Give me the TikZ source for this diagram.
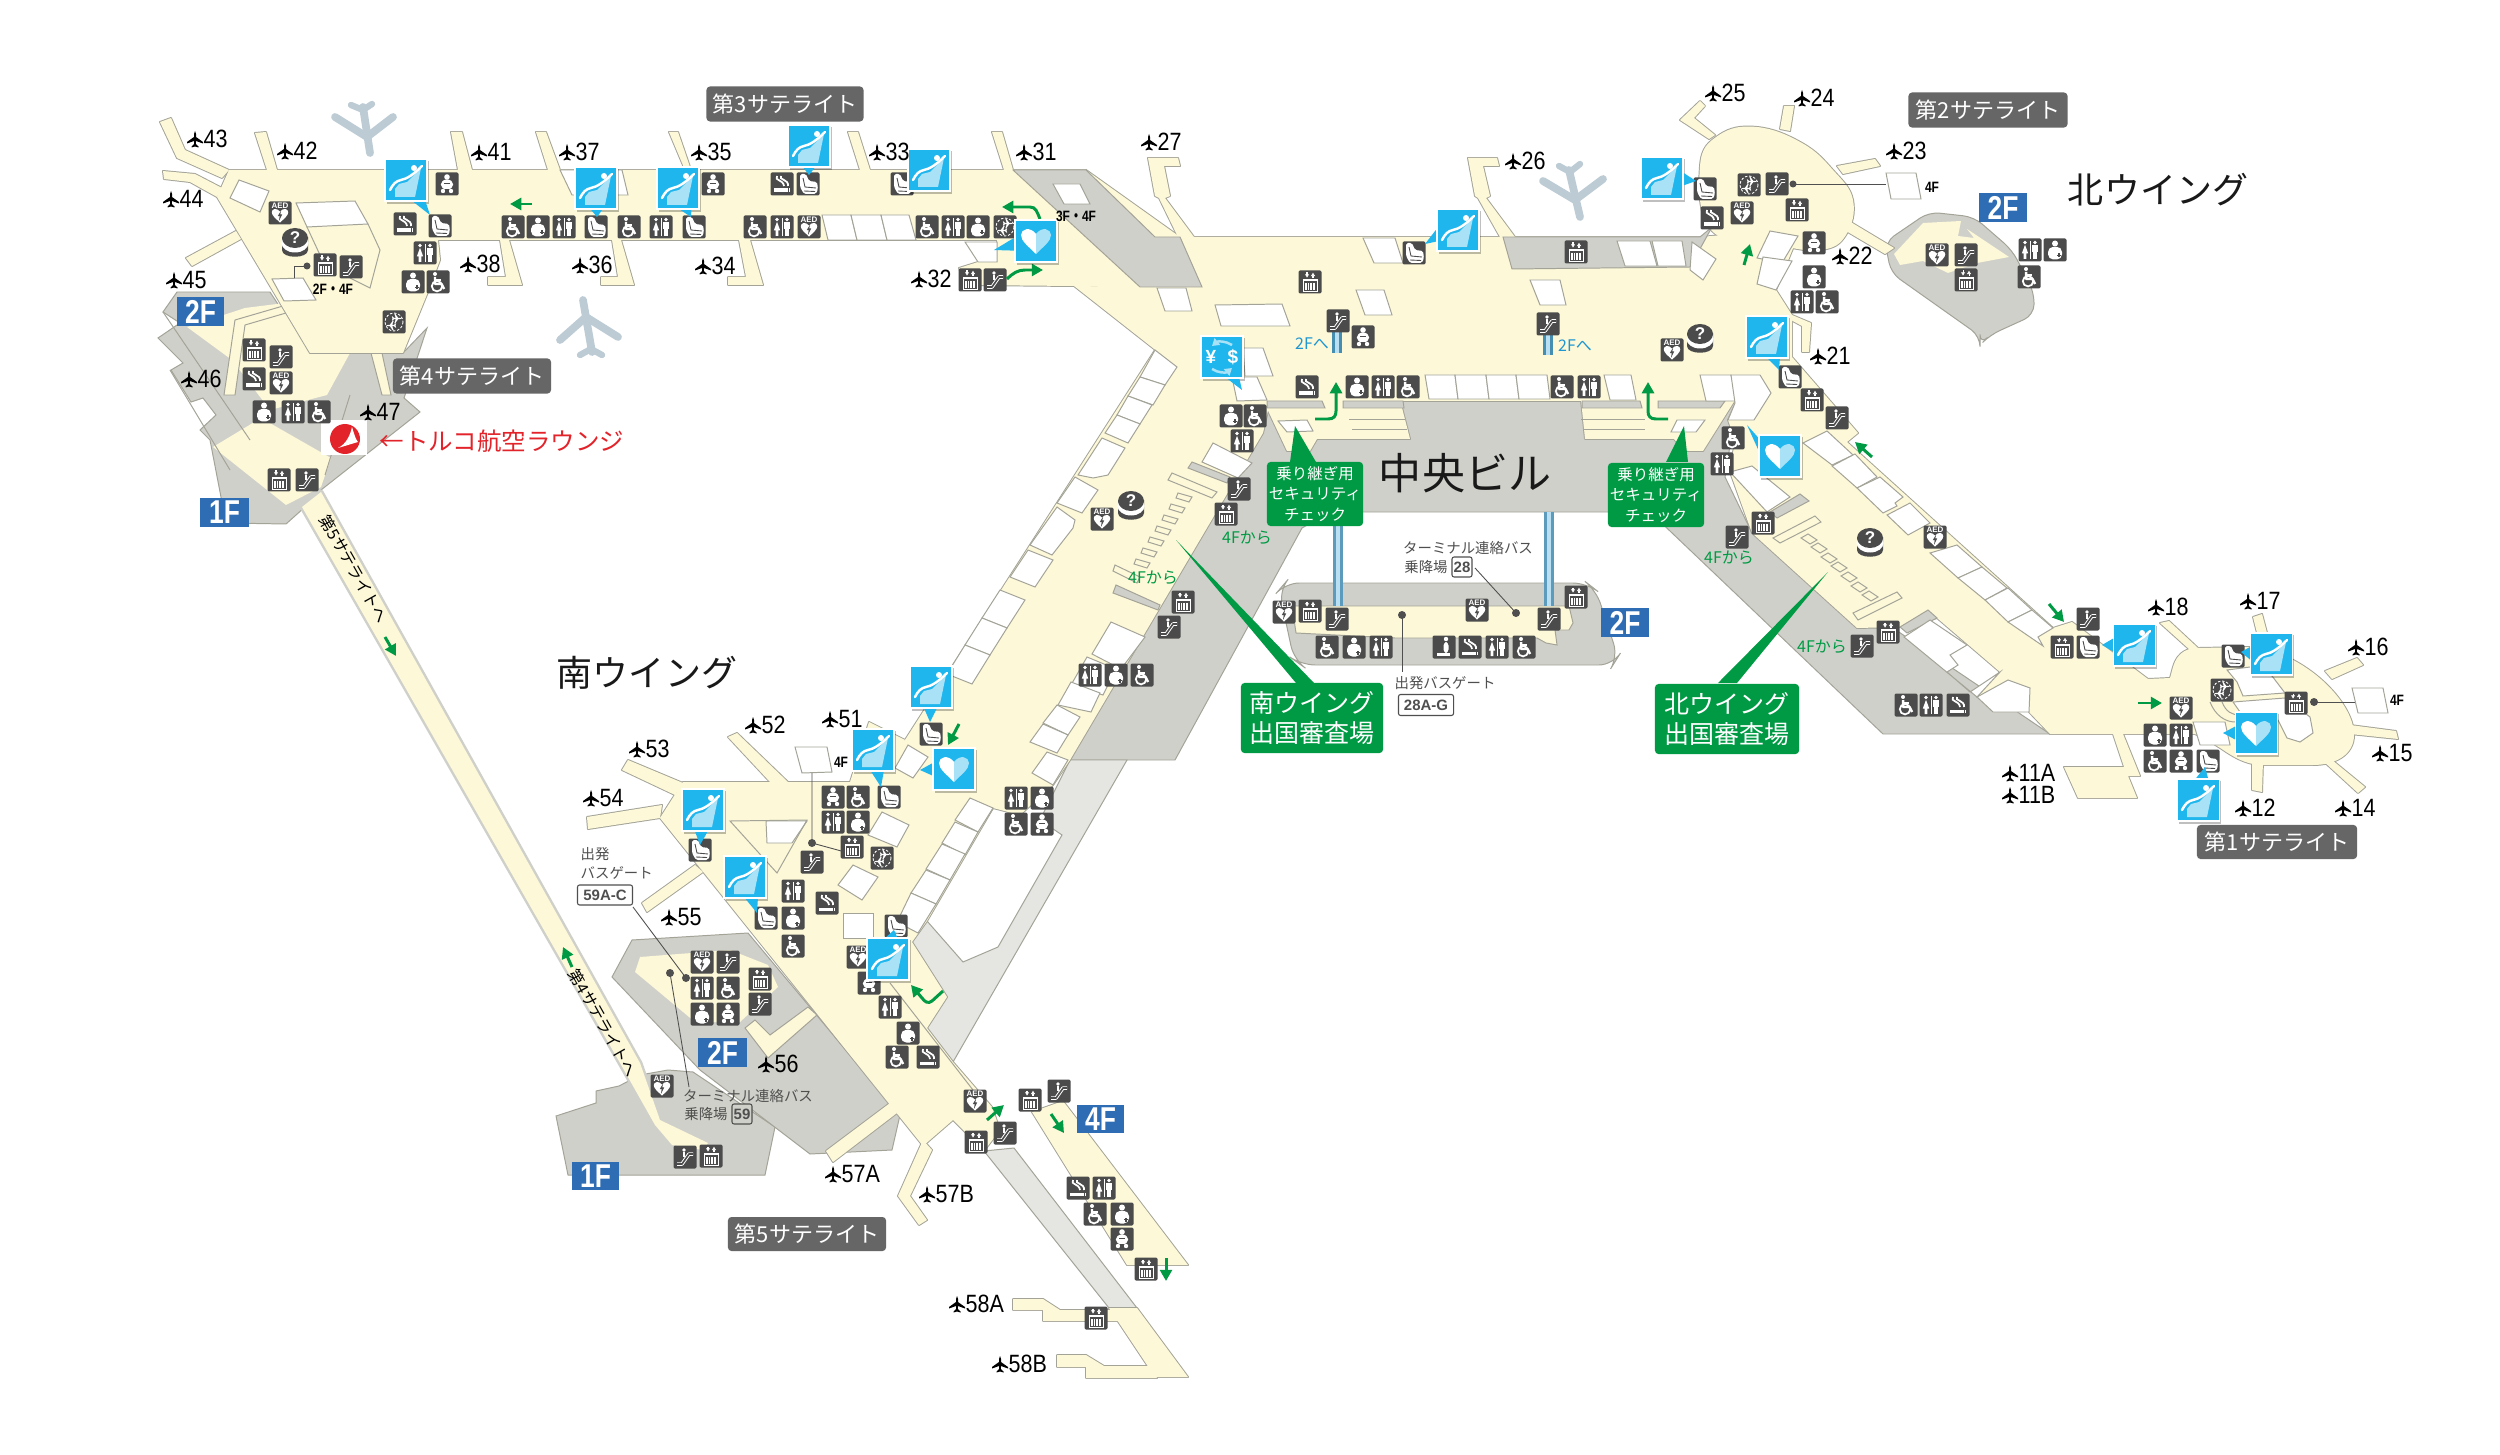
\documentclass[tikz,border=0pt]{standalone}
\usepackage{fontspec}
\setmainfont{Liberation Sans}
\newfontfamily\jp{Noto Sans CJK JP}
\usetikzlibrary{arrows.meta}
\definecolor{crm}{HTML}{FCF8D8}
\definecolor{gr}{HTML}{D0D0CA}
\definecolor{lgr}{HTML}{E5E6E2}
\definecolor{ln}{HTML}{A3A398}
\definecolor{icbg}{HTML}{4B4B4B}
\definecolor{cbl}{HTML}{1FB6EE}
\definecolor{cll}{HTML}{A9E2F7}
\definecolor{grn}{HTML}{009A44}
\definecolor{fbl}{HTML}{2E6DB4}
\definecolor{lbg}{HTML}{666666}
\definecolor{pln}{HTML}{BCCBD4}
\definecolor{tred}{HTML}{E2232A}
\definecolor{tbl}{HTML}{1E96D2}
\definecolor{tg}{HTML}{4F4F4F}
\newcommand\fpx[1]{\fontsize{\fpeval{#1*0.2845}}{\fpeval{#1*0.34}}\selectfont}
\tikzset{
 x=0.01cm,y=-0.01cm,
 lnn/.style={draw=ln,line width=.28pt},
 cln/.style={draw=ln,line width=.55pt,line join=round},
 cfl/.style={fill=crm},
 gfl/.style={fill=gr,draw=ln,line width=.28pt},
 wb/.style={fill=white,draw=ln,line width=.28pt},
 ga/.style={draw=grn,line width=.85pt,-{Triangle[length=3.2pt,width=3.4pt]}},
 gnum/.style={anchor=west,inner sep=0pt,text=black,font=\fpx{25},xscale=.86},
 satl/.style={fill=lbg,text=white,rounded corners=1pt,font=\jp\fpx{22},inner sep=0pt,anchor=center},
 gtx/.style={text=tg,inner sep=0pt,font=\jp\fpx{14.4}},
 gfs/.style={text=grn,inner sep=0pt,font=\jp\fpx{16}},
 bfs/.style={text=tbl,inner sep=0pt,font=\jp\fpx{16}},
 bfl/.style={text=black,inner sep=0pt,font=\bfseries\fpx{15},xscale=.8},
 blk/.style={text=black!90,inner sep=0pt,font=\jp},
 bbx/.style={draw=tg,line width=.3pt,rounded corners=.6pt,fill=white,text=tg,inner sep=0pt,font=\bfseries\fpx{15},xscale=1}
}
% ---- gate plane glyph
\newcommand\Gpl[1]{\fill[#1] (0,-8)--(1,-5)--(1,-2)--(8,3)--(8,4.5)--(1,2)--(.9,5)--(3.5,7.5)--(3.5,8.5)--(0,7.5)--(-3.5,8.5)--(-3.5,7.5)--(-.9,5)--(-1,2)--(-8,4.5)--(-8,3)--(-1,-2)--(-1,-5)--cycle;}
\newcommand\gtl[3]{\begin{scope}[shift={(#1,#2)}]\Gpl{black}\end{scope}\node[gnum] (gate#3) at (#1+8,#2) {#3};}
\newcommand\hrt{(0,13) .. controls (-8,5) and (-15,0) .. (-15,-6) .. controls (-15,-12) and (-6,-15) .. (0,-7) .. controls (6,-15) and (15,-12) .. (15,-6) .. controls (15,0) and (8,5) .. (0,13) -- cycle}
% ---- icon glyphs
\newcommand\Ge{\fill[white] (-7,-3) rectangle (7,-.8);\draw[white,line width=.25pt] (-7,-3) rectangle (7,9);
 \foreach \q in {-5,-2.4,.2,2.8}{\fill[white] (\q,1) rectangle (\q+1.7,8);}
 \draw[white,line width=.3pt,-{Latex[length=1pt,width=1.3pt]}] (-3,-9.5)--(-3,-4.2);\draw[white,line width=.3pt,-{Latex[length=1pt,width=1.3pt]}] (3,-4.2)--(3,-9.5);}
\newcommand\Gs{\draw[white,line width=1pt,line join=round] (-8,7)--(-3,7)--(4,-3)--(8,-3);\draw[icbg,line width=.45pt,line join=round] (-8,7)--(-3,7)--(4,-3)--(8,-3);\fill[white] (-1,-7) circle (1.8);\draw[white,line width=.4pt] (-1,-5)--(-1,0);}
\newcommand\Gt{\fill[white] (-5,-7.5) circle (1.9);\fill[white] (-5,-5.2)--(-1.8,3.5)--(-3.6,3.5)--(-3.6,9)--(-6.4,9)--(-6.4,3.5)--(-8.2,3.5)--cycle;
 \fill[white] (5,-7.5) circle (1.9);\fill[white] (2.4,-5) rectangle (7.6,2);\fill[white] (3.2,2) rectangle (6.8,9);\draw[white,line width=.2pt] (0,-9)--(0,9);}
\newcommand\Gw{\fill[white] (-3,-8) circle (2);\draw[white,line width=.5pt] (-1,4.2) circle (5.2);\draw[white,line width=.7pt,line join=round] (-3,-5)--(-3,2)--(3.5,2)--(6,7);\draw[white,line width=.5pt] (-3,-2)--(3,-2);}
\newcommand\Gm{\fill[white] (0,-6.5) circle (3);\fill[white,rounded corners=1.5] (-7,-3.2) rectangle (7,9.5);\fill[icbg] (2,4.8) rectangle (6,6.2);\fill[icbg] (3.3,3.5) rectangle (4.7,7.5);}
\newcommand\Gb{\fill[white] (0,-7) circle (2.8);\fill[white] (0,0.5) ellipse (6.2 and 5);\fill[white] (-4,7) circle (2.2);\fill[white] (4,7) circle (2.2);\fill[icbg] (-2,5.4) rectangle (2,8);\draw[icbg,line width=.25pt] (-3,-1)--(3,-1);}
\newcommand\Gc{\fill[white] (-8,4.5) rectangle (5.5,8);\fill[white] (6.5,4.5) rectangle (8,8);\draw[white,line width=.5pt] (-5,-8) .. controls (-8,-3) and (1,-5) .. (2,2);\draw[white,line width=.5pt] (-1,-8) .. controls (-4,-4) and (7,-5) .. (6,2);}
\newcommand\Ga{\node[text=white,inner sep=0pt,font=\bfseries\fpx{8}] at (0,-7.6) {AED};\begin{scope}[shift={(0,2.5)},scale=.55]\fill[white] \hrt;\fill[icbg] (2,-9)--(-4,1)--(-.5,1)--(-2,10)--(4,-2)--(.5,-2)--cycle;\end{scope}}
\newcommand\Gl{\fill[white,rounded corners=.5] (-8,-10)--(-2,-10)--(1,-3)--(9,-2)--(10,5)--(8,10)--(-4,10)--(-8,3)--cycle;\draw[icbg,line width=.25pt] (-5,-6)--(-3,3)--(8,4);\draw[icbg,line width=.25pt] (-4,7)--(7,7.5);}
\newcommand\Gp{\draw[white,line width=.25pt,dash pattern=on .7pt off .5pt] (0,0) circle (9);\begin{scope}[shift={(3,-3.5)},scale=.6,rotate=-90]\Gpl{white}\end{scope}\begin{scope}[shift={(-3,3.5)},scale=.6,rotate=90]\Gpl{white}\end{scope}}
\newcommand\Gk{\fill[white] (2,-8) circle (2.2);\fill[white,rounded corners=1] (-.5,-5) rectangle (4.5,6);\fill[white] (-7,6) rectangle (6,9);}
\newcommand\ic[3]{\fill[icbg,rounded corners=.4pt] (#1-11.5,#2-11.5) rectangle (#1+11.5,#2+11.5);\begin{scope}[shift={(#1,#2)}]#3\end{scope}}
% ---- info desk
\newcommand\info[2]{\begin{scope}[shift={(#1,#2)}]\fill[icbg] (-13,-5) -- (-13,8) .. controls (-13,17) and (13,17) .. (13,8) -- (13,-5) -- cycle;\fill[white] (0,1) ellipse (13.5 and 9.5);\fill[icbg] (0,-4) ellipse (13 and 10);\fill[icbg] (-13,-4) rectangle (13,-3);\node[text=white,inner sep=0pt,font=\bfseries\fpx{17}] at (0,-4) {?};\end{scope}}
% ---- callouts
\newcommand\Cseat{\fill[cll] (-11,17)--(-11,9)--(-7,4)--(1,2)--(10,-7)--(15,-12)--(9,17)--cycle;\draw[white,line width=.7pt,line cap=round] (-16,10) .. controls (-13,4) and (-10,1) .. (-5,0) .. controls (1,-1) and (8,-6) .. (16,-14);\fill[white] (8,-12) circle (3);}
\newcommand\Cheart{\fill[white] (0,13) .. controls (-8,5) and (-15,0) .. (-15,-6) .. controls (-15,-12) and (-6,-15) .. (0,-7) -- cycle;\fill[cll] (0,13) .. controls (8,5) and (15,0) .. (15,-6) .. controls (15,-12) and (6,-15) .. (0,-7) -- cycle;}
\newcommand\Cex{\node[text=white,inner sep=0pt,font=\bfseries\fpx{19}] at (-11,0) {¥};\node[text=white,inner sep=0pt,font=\bfseries\fpx{19}] at (11,0) {\$};
 \draw[cll,line width=.7pt,-{Triangle[length=2pt,width=2.4pt]}] (10,-12) .. controls (4,-16) and (-4,-16) .. (-10,-11);\draw[cll,line width=.7pt,-{Triangle[length=2pt,width=2.4pt]}] (-10,12) .. controls (-4,16) and (4,16) .. (10,11);}
\newcommand\cb[5]{\pgfmathsetmacro\ddx{#3-#1}\pgfmathsetmacro\ddy{#4-#2}\pgfmathsetmacro\hh{abs(\ddx)>abs(\ddy)?1:0}
 \pgfmathsetmacro\sgx{\ddx>0?1:-1}\pgfmathsetmacro\sgy{\ddy>0?1:-1}
 \fill[black,opacity=.25] (#1-19,#2-19) rectangle (#1+23,#2+24);
 \ifdim\hh pt>0.5pt
  \fill[cbl] (#3,#4)--(#1+\sgx*20,#2+.3*\ddy-7)--(#1+\sgx*20,#2+.3*\ddy+7)--cycle;
 \else
  \fill[cbl] (#3,#4)--(#1+.5*\ddx-7,#2+\sgy*20)--(#1+.5*\ddx+7,#2+\sgy*20)--cycle;
 \fi
 \filldraw[fill=cbl,draw=white,line width=.3pt] (#1-21,#2-21) rectangle (#1+21,#2+21);
 \begin{scope}[shift={(#1,#2)}]#5\end{scope}}
% ---- all cream areas
\newcommand\creamall[1]{%
 % gates west
 #1 (160,122)--(171,118)--(185,150)--(229,170)--(222,178)--(177,158)--cycle;
 #1 (163,171)--(195,174)--(222,188)--(217,197)--(190,182)--(164,179)--cycle;
 #1 (255,133)--(266,132)--(277,170)--(267,170)--cycle;
 #1 (186,258)--(192,266)--(241,239)--(236,231)--cycle;
 #1 (451,132)--(462,132)--(472,170)--(458,170)--cycle;
 #1 (536,132)--(546,132)--(560,170)--(548,170)--cycle;
 #1 (669,132)--(678,132)--(691,170)--(685,170)--cycle;
 #1 (848,132)--(858,132)--(870,170)--(860,170)--cycle;
 #1 (992,132)--(1002,132)--(1013,170)--(1004,170)--cycle;
 #1 (500,240)--(509,240)--(522,285)--(488,285)--(488,277)--(506,277)--cycle;
 #1 (612,240)--(621,240)--(634,285)--(601,285)--(601,277)--(618,277)--cycle;
 #1 (739,240)--(750,240)--(763,285)--(728,285)--(728,277)--(746,277)--cycle;
 % gates center
 #1 (1148,158)--(1178,158)--(1180,166)--(1164,166)--(1170,196)--(1165,198)--(1194,237)--(1178,237)--(1159,198)--(1155,196)--cycle;
 #1 (1468,158)--(1497,158)--(1499,166)--(1483,166)--(1490,196)--(1486,198)--(1515,237)--(1500,237)--(1478,198)--(1475,196)--cycle;
 % sat 2 gates
 #1 (1700,101)--(1705,106)--(1694,118)--(1715,135)--(1709,139)--(1680,120)--cycle;
 #1 (1784,106)--(1794,106)--(1790,131)--(1780,129)--cycle;
 #1 (1837,166)--(1875,159)--(1880,166)--(1843,174)--cycle;
 #1 (1849,221)--(1894,248)--(1885,254)--(1846,231)--cycle;
 #1 (1792,315)--(1811,323)--(1809,352)--(1802,352)--(1802,326)--(1789,319)--cycle;
 % sat 1 gates
 #1 (2160,623)--(2169,621)--(2198,648)--(2190,650)--cycle;
 #1 (2253,617)--(2262,614)--(2267,633)--(2257,633)--cycle;
 #1 (2325,671)--(2357,658)--(2363,665)--(2332,679)--cycle;
 #1 (2350,725)--(2396,731)--(2398,739)--(2350,734)--cycle;
 #1 (2322,760)--(2332,760)--(2365,787)--(2358,793)--cycle;
 #1 (2252,760)--(2263,760)--(2262,792)--(2252,790)--cycle;
 #1 (2113,734)--(2123,734)--(2140,776)--(2128,776)--(2137,798)--(2078,798)--(2064,767)--(2124,767)--cycle;
 % south gates
 #1 (695,865)--(703,872)--(647,912)--(642,903)--cycle;
 #1 (587,817)--(662,805)--(660,818)--(588,829)--cycle;
 #1 (628,760)--(683,783)--(675,795)--(622,770)--cycle;
 #1 (737,733)--(788,782)--(770,782)--(728,737)--cycle;
 #1 (869,722)--(905,740)--(880,782)--(850,782)--cycle;
 #1 (826,1151)--(890,1103)--(897,1113)--(833,1162)--cycle;
 #1 (923,1140)--(932,1150)--(910,1196)--(927,1220)--(919,1225)--(898,1196)--cycle;
 % west hub and corridor
 #1 (229,170)--(1086,170)--(1180,237)--(1200,290)--(1074,286)--(965,285)--(959,268)--(978,262)--(997,262)--(997,240)--(438,240)--(440,260)--(428,292)--(403,353)--(310,353)--(217,197)--cycle;
 % sat 2 body
 #1 plot[smooth cycle,tension=.7] coordinates {(1757,127)(1802,143)(1833,170)(1853,200)(1846,235)(1821,250)(1776,245)(1712,231)(1700,166)(1719,135)};
 % hall, south wing, north wing, sat 1
 #1 (1180,237)--(1700,237)--(1770,231)--(1798,236)--(1776,290)--(1792,315)--(1792,357)--(1858,433)--(1847,442)--(2053,628)--(2072,622)--(2148,679)--(2170,678)--(2173,667) .. controls (2178,650) and (2190,648) .. (2198,648) -- (2250,647) .. controls (2300,650) and (2354,700) .. (2354,735) .. controls (2354,755) and (2335,765) .. (2313,765) -- (2263,765) .. controls (2240,765) and (2225,750) .. (2212,743) -- (2195,734) -- (2050,734) -- (2029,712) -- (2030,688) -- (2008,680) -- (1977,697) -- (2000,672) -- (1937,618) -- (1900,627) -- (1857,628) -- (1752,533) -- (1730,472) -- (1735,440) -- (1728,420) -- (1737,401) -- (1270,401) -- (1263,433) -- (1070,760) -- (1053,785) -- (1020,815) -- (993,808) -- (927,921) -- (912,942) -- (947,997) -- (927,1028) -- (953,1062) -- (992,1107) -- (1000,1130) -- (984,1151) -- (953,1120) -- (923,1146) -- (660,818) -- (683,782) -- (870,782) -- (905,740) -- (1155,350) -- (1177,367) -- (1074,286) -- (1140,287) -- cycle;
 % pockets
 #1 (1263,400)--(1400,400)--(1410,439)--(1317,439)--(1310,451)--(1287,451)--cycle;
 #1 (1581,400)--(1735,400)--(1703,451)--(1684,451)--(1674,439)--(1585,439)--cycle;
 % lower south
 #1 (1032,1112)--(1063,1101)--(1188,1265)--(1127,1265)--cycle;
 #1 (1109,1308)--(1137,1308)--(1188,1377)--(1155,1377)--cycle;
 #1 (1013,1299)--(1043,1299)--(1060,1310)--(1115,1310)--(1125,1321)--(1043,1321)--(1043,1310)--(1013,1310)--cycle;
 #1 (1057,1355)--(1086,1355)--(1104,1366)--(1150,1366)--(1157,1378)--(1086,1378)--(1086,1367)--(1057,1367)--cycle;
}
\begin{document}
\begin{tikzpicture}
\useasboundingbox (0,0) rectangle (2500,1455);
\fill[white] (0,0) rectangle (2500,1455);
% ---------- gray floors
\filldraw[gfl] (177,292)--(270,292)--(310,353)--(403,353)--(427,328)--(404,398)--(420,412)--(321,490)--(305,507)--(286,524)--(226,523)--(210,440)--(200,430)--(216,415)--(203,398)--(191,402)--(171,370)--(183,363)--(158,338)--(180,323)--(163,312)--cycle;
\fill[crm] (187,327)--(245,308)--(285,303)--(310,353)--(350,353)--(327,395)--(270,410)--(232,360)--cycle;
\fill[crm] (213,447)--(261,418)--(331,458)--(321,487)--(286,505)--cycle;
\filldraw[fill=crm,draw=ln,line width=.28pt] (224,395)--(235,395)--(245,325)--(286,313)--(283,306)--(235,320)--cycle;
\filldraw[fill=crm,draw=ln,line width=.28pt] (371,353)--(382,353)--(391,395)--(382,395)--cycle;
\draw[ln,line width=.28pt] (163,312)--(250,440) (170,370)--(230,470) (325,475)--(350,395);
% corridor to satellite 4/5
\filldraw[gfl] (556,1116)--(596,1103)--(596,1091)--(619,1086)--(640,1075)--(668,1070)--(693,1072)--(775,1127)--(765,1175)--(568,1175)--cycle;
\filldraw[gfl] (632,940)--(748,933)--(890,1103)--(900,1115)--(892,1150)--(810,1154)--(700,1070)--(612,977)--cycle;
\draw[gr,line width=1.4pt,line join=round] (302,507)--(321,492)--(640,1063)--(660,1120)--(708,1143)--(703,1150)--(672,1145)--(655,1125)--(620,1063)--cycle;
\fill[crm] (302,507)--(321,492)--(640,1063)--(660,1120)--(708,1143)--(703,1150)--(672,1145)--(655,1125)--(620,1063)--cycle;
\fill[crm] (640,957)--(635,972)--(695,1022)--(740,1022)--(778,987)--(768,965)--(730,950)--cycle;
\filldraw[fill=crm,draw=ln,line width=.28pt] (745,1028)--(755,1020)--(770,1035)--(808,1007)--(817,1015)--(768,1058)--cycle;
% main gray
\filldraw[gfl] (1263,433)--(1270,401)--(1737,401)--(1725,477)--(1752,533)--(2050,734)--(1883,734)--(1650,512)--(1330,512)--(1302,528)--(1175,760)--(1070,760)--cycle;
\filldraw[fill=lgr,draw=ln,line width=.28pt] (1070,760)--(1127,760)--(953,1062)--(927,1028)--(947,997)--(912,942)--(927,921)--(963,962)--(998,947)--(1062,835)--(1040,820)--cycle;
% sat2 annex gray
\filldraw[gfl,rounded corners=3] (1929,212)--(1885,242)--(1891,273)--(1980,336)--(1980,345)--(1990,335)--(2034,315)--(2034,292)--(2012,250)--(1974,217)--cycle;
\fill[crm] (1894,254)--(1923,223)--(1961,221)--(1958,236)--(1974,238)--(1967,229)--(2009,257)--(1977,263)--(1948,273)--(1923,261)--(1900,265)--cycle;
% central 2F gray
\filldraw[gfl,rounded corners=4] (1279,590)--(1285,583)--(1587,583)--(1596,590)--(1618,657)--(1613,665)--(1301,665)--(1294,660)--cycle;
\filldraw[fill=crm,draw=ln,line width=.28pt] (1292,606)--(1569,606)--(1573,623)--(1569,630)--(1555,630)--(1557,645)--(1546,643)--(1537,638)--(1395,638)--(1296,633)--cycle;
% light gray strip
\filldraw[fill=lgr,draw=ln,line width=.28pt] (984,1151)--(1014,1148)--(1137,1308)--(1109,1308)--cycle;
% ---------- cream union
\creamall{\draw[cln]}
\creamall{\fill[cfl]}
\draw[ln,line width=.28pt] (890,983)--(973,1090);
% gray overlays
\filldraw[gfl] (1013,170)--(1086,170)--(1155,237)--(1180,237)--(1202,287)--(1140,287)--cycle;
\filldraw[gfl] (1503,237)--(1700,237)--(1712,227)--(1690,267)--(1512,269)--cycle;
\foreach \a/\b/\c in {1267/1322/1325,1343/1403/1404,1582/1640/1642,1658/1725/1720}{\filldraw[gfl] (\a,401)--(\b,401)--(\c,408)--(\a,408)--cycle;}
\filldraw[gfl] (1116,585)--(1113,593)--(1158,610)--(1160,605)--cycle;
\filldraw[gfl] (1192,462)--(1188,468)--(1227,483)--(1230,477)--cycle;
\filldraw[gfl] (1770,512)--(1800,494)--(1809,501)--(1777,518)--cycle;
\filldraw[gfl] (1900,627)--(1928,610)--(1937,618)--(1907,633)--cycle;
% ---------- white boxes
\foreach \p in {
 {(230,198)--(239,180)--(269,191)--(260,212)},
 {(296,203)--(355,201)--(368,224)--(307,227)},
 {(272,279)--(303,278)--(316,300)--(284,301)},
 {(1053,184)--(1080,184)--(1090,204)--(1064,204)},
 {(965,242)--(997,242)--(997,262)--(978,262)},
 {(822,215)--(851,215)--(857,240)--(828,240)},
 {(851,215)--(881,215)--(887,240)--(857,240)},
 {(881,215)--(909,215)--(916,240)--(887,240)},
 {(560,170)--(622,170)--(628,195)--(572,195)},
 {(1155,350)--(1177,367)--(1165,385)--(1140,377)},
 {(1140,377)--(1165,385)--(1153,405)--(1128,396)},
 {(1128,396)--(1152,405)--(1140,424)--(1117,415)},
 {(1117,415)--(1140,424)--(1128,443)--(1105,433)},
 {(1102,438)--(1125,448)--(1108,475)--(1093,478)--(1078,475)},
 {(1075,477)--(1098,490)--(1082,513)--(1057,503)},
 {(1057,507)--(1075,520)--(1073,528)--(1052,555)--(1030,545)},
 {(1028,550)--(1053,560)--(1035,587)--(1010,577)},
 {(1000,590)--(1025,600)--(1007,628)--(982,618)},
 {(982,618)--(1007,628)--(990,655)--(965,645)},
 {(965,645)--(990,655)--(972,684)--(947,674)},
 {(1213,443)--(1252,463)--(1238,478)--(1202,462)},
 {(1111,622)--(1145,637)--(1121,669)--(1092,654)},
 {(1087,657)--(1116,669)--(1103,695)--(1071,685)},
 {(1071,682)--(1100,693)--(1091,712)--(1058,705)},
 {(1057,705)--(1080,717)--(1068,735)--(1043,723)},
 {(1043,724)--(1068,735)--(1057,753)--(1030,742)},
 {(1047,752)--(1068,760)--(1053,785)--(1032,773)},
 {(970,798)--(993,808)--(978,832)--(955,820)},
 {(955,822)--(978,832)--(965,855)--(942,843)},
 {(942,844)--(965,854)--(950,880)--(926,869)},
 {(926,870)--(950,880)--(936,904)--(911,893)},
 {(911,893)--(936,904)--(918,933)--(897,922)},
 {(1363,238)--(1395,238)--(1403,263)--(1374,263)},
 {(1157,288)--(1186,288)--(1192,311)--(1165,311)},
 {(1215,305)--(1282,304)--(1290,326)--(1221,326)},
 {(1356,290)--(1384,290)--(1392,315)--(1365,315)},
 {(1530,280)--(1560,280)--(1566,305)--(1540,305)},
 {(1243,348)--(1263,348)--(1273,376)--(1245,376)},
 {(1232,377)--(1257,377)--(1267,400)--(1237,401)},
 {(1425,375)--(1455,375)--(1458,399)--(1429,399)},
 {(1455,375)--(1486,375)--(1489,399)--(1458,399)},
 {(1486,375)--(1516,375)--(1519,399)--(1489,399)},
 {(1516,375)--(1547,375)--(1550,399)--(1519,399)},
 {(1604,375)--(1631,375)--(1636,400)--(1610,400)},
 {(1700,375)--(1731,375)--(1738,401)--(1706,401)},
 {(1731,375)--(1760,375)--(1771,393)--(1754,420)--(1728,420)--(1735,403)},
 {(1278,421)--(1307,420)--(1313,431)--(1287,432)},
 {(1677,420)--(1705,420)--(1696,432)--(1671,432)},
 {(1617,241)--(1650,241)--(1657,266)--(1625,266)},
 {(1652,241)--(1682,241)--(1686,266)--(1658,266)},
 {(1692,242)--(1716,259)--(1703,280)--(1690,270)},
 {(1770,231)--(1798,236)--(1782,263)--(1757,258)},
 {(1763,257)--(1792,261)--(1776,290)--(1757,284)},
 {(1730,472)--(1752,466)--(1790,497)--(1767,512)},
 {(1803,443)--(1827,431)--(1853,455)--(1832,465)},
 {(1832,466)--(1855,454)--(1877,477)--(1857,488)},
 {(1857,488)--(1880,477)--(1903,497)--(1895,503)--(1897,506)--(1883,513)},
 {(1887,515)--(1910,503)--(1930,523)--(1908,535)},
 {(1930,553)--(1957,545)--(1982,567)--(1958,578)},
 {(1958,578)--(1982,567)--(2007,588)--(1985,600)},
 {(1985,600)--(2008,588)--(2032,610)--(2008,622)},
 {(2008,622)--(2032,610)--(2053,628)--(2038,637)--(2043,646)},
 {(1904,637)--(1930,620)--(1967,645)--(1950,655)--(1958,665)--(1947,672)--(1970,692)--(2000,672)--(1977,697)},
 {(1977,697)--(2008,680)--(2030,688)--(2029,712)--(1993,712)},
 {(2227,670)--(2250,667)--(2272,676)--(2285,693)--(2243,696)--(2237,682)},
 {(2233,702)--(2285,698)--(2310,717)--(2313,733)--(2300,742)--(2287,738)--(2278,720)--(2240,712)},
 {(2193,722)--(2225,722)--(2230,745)--(2200,745)},
 {(2352,688)--(2383,688)--(2388,713)--(2358,713)},
 {(1886,173)--(1916,173)--(1921,199)--(1891,199)},
 {(795,747)--(827,747)--(832,772)--(802,773)},
 {(766,821)--(807,821)--(792,843)--(767,843)},
 {(882,812)--(909,825)--(897,847)--(868,835)},
 {(853,865)--(878,877)--(862,900)--(838,885)},
 {(843,913)--(873,913)--(873,938)--(843,938)},
 {(908,745)--(928,757)--(913,778)--(895,768)}
}{\path[wb] \p -- cycle;}
% inner outlines
\draw[ln,line width=.28pt] (368,224)--(380,250)--(370,288)--(350,278) (307,227)--(320,255);
\draw[ln,line width=.28pt] (730,821)--(777,873)--(807,820)--cycle;
\draw[ln,line width=.28pt] (1349,419)--(1405,419) (1352,429)--(1407,429) (1581,419)--(1645,419) (1583,429)--(1645,429);
\draw[ln,line width=.28pt] (2210,702) .. controls (2215,715) and (2225,722) .. (2235,722) (2222,702) .. controls (2226,712) and (2232,715) .. (2240,715);
% security gate patterns
\foreach \p in {{(1172,473)--(1217,492)--(1212,498)--(1168,480)},{(1115,565)--(1140,577)--(1137,583)--(1113,571)},{(1773,538)--(1815,516)--(1821,522)--(1780,543)},{(1853,613)--(1897,592)--(1902,598)--(1858,620)}}{\path[fill=crm,draw=ln,line width=.28pt] \p -- cycle;}
\foreach \a/\b in {1184/497,1177/508,1170/519,1163/530,1156/541,1149/552,1142/563}{\draw[ln,line width=.28pt] (\a-6,\b-4)--(\a+8,\b)--(\a+5,\b+5)--(\a-8,\b+1)--cycle;}
\foreach \a/\b in {1808/539,1818/548,1828/558,1838/567,1848/577,1858/587,1869/596}{\draw[ln,line width=.28pt] (\a-7,\b-1)--(\a,\b-5)--(\a+9,\b+1)--(\a+2,\b+5)--cycle;}
% blue columns
\foreach \c in {1338,1549}{\draw[line width=3pt,draw=tbl!75!black!70] (\c,512)--(\c,606);\draw[line width=1pt,draw=white!70!tbl] (\c,512)--(\c,606);}
\foreach \c/\d in {1337/353,1548/355}{\draw[line width=3pt,draw=tbl!60!gray] (\c,325)--(\c,\d);\draw[line width=1pt,draw=white!70!tbl] (\c,325)--(\c,\d);}
% leader lines
\draw[tg,line width=.25pt] (1793,184)--(1886,184);\fill[tg] (1793,184) circle (3.5);
\draw[tg,line width=.25pt] (2314,702)--(2355,702);\fill[tg] (2314,702) circle (4);
\draw[tg,line width=.25pt] (307,266)--(294,266)--(294,278);\fill[tg] (307,266) circle (3.5);
\draw[tg,line width=.25pt] (812,773)--(812,843)--(845,852);\fill[tg] (812,843) circle (4);
\draw[tg,line width=.25pt] (1402,615)--(1402,672);\fill[tg] (1402,615) circle (4);
\draw[tg,line width=.25pt] (1475,568)--(1516,613);\fill[tg] (1516,613) circle (4);
\draw[tg,line width=.25pt] (633,907)--(686,978);\fill[tg] (686,978) circle (4);
\draw[tg,line width=.25pt] (670,973)--(689,1087);\fill[tg] (670,973) circle (4);
% ---------- decorative planes
\draw[pln,line width=2.2pt,line cap=round] (363,107)--(370,153);\draw[pln,line width=2.2pt,line cap=round] (335,117)--(367,137)--(393,117);\draw[pln,line width=1.8pt,line cap=round] (351,105)--(363,110)--(372,104);
\draw[pln,line width=2.2pt,line cap=round] (1569,170)--(1580,217);\draw[pln,line width=2.2pt,line cap=round] (1543,181)--(1575,200)--(1603,179);\draw[pln,line width=1.8pt,line cap=round] (1559,166)--(1570,172)--(1580,164);
\draw[pln,line width=2.2pt,line cap=round] (583,300)--(592,352);\draw[pln,line width=2.2pt,line cap=round] (560,340)--(586,317)--(618,337);\draw[pln,line width=1.8pt,line cap=round] (580,355)--(591,349)--(602,355);
% ---------- turkish airlines
\fill[white] (321,420) rectangle (367,455);
\fill[tred] (345,439) circle (15);
\fill[white] (338,448) .. controls (346,444) and (350,436) .. (352,427) .. controls (354,434) and (356,440) .. (358,442) .. controls (351,444) and (345,446) .. (338,448) -- cycle;
\node[text=tred,inner sep=0pt,anchor=west,font=\jp\fpx{24.5}] (thy) at (379,441) {←トルコ航空ラウンジ};
% ---------- icons
\foreach \a/\b in {325/265,254/350,970/280,1310/282,1576/252,1226/514,1183/602,1310/611,1576/597,1797/210,1966/280,1763/523,1888/632,2062/647,2296/703,852/847,760/979,1030/1100,976/1142,1146/1269,1096/1318,711/1156,279/480,1812/400}{\ic{\a}{\b}{\Ge}}
\foreach \a/\b in {351/267,281/357,995/280,307/480,1338/321,1548/324,1239/489,1169/627,1337/619,1549/619,1777/184,1966/255,1837/418,1737/537,1862/646,2088/619,812/862,728/962,760/1004,1059/1091,1005/1133,685/1157}{\ic{\a}{\b}{\Gs}}
\foreach \a/\b in {425/253,564/227,661/227,782/227,953/227,293/412,1383/387,1589/387,1242/441,1802/302,2030/250,1722/464,1931/705,2181/735,1381/647,1497/647,1090/675,1016/798,890/1007,833/822,793/891,702/988,1104/1188}{\ic{\a}{\b}{\Gt}}
\foreach \a/\b in {438/282,513/227,629/227,755/227,927/227,319/412,1408/387,1562/387,1255/416,1827/302,2029/277,1733/438,1906/705,2155/761,1327/647,1524/647,1142/675,1016/824,858/797,897/1057,793/946,728/988,1095/1214}{\ic{\a}{\b}{\Gw}}
\foreach \a/\b in {413/282,538/227,978/227,264/412,1357/387,1231/416,1814/277,2055/250,2155/735,1354/647,1116/675,1042/798,858/822,908/1033,793/918,702/1014,1122/1214}{\ic{\a}{\b}{\Gm}}
\foreach \a/\b in {447/184,713/184,1363/337,1814/243,2181/761,833/797,1042/824,869/983,728/1014,1122/1239}{\ic{\a}{\b}{\Gb}}
\foreach \a/\b in {405/224,254/379,782/184,1307/387,1712/218,1958/705,1470/647,827/903,928/1057,1078/1188}{\ic{\a}{\b}{\Gc}}
\foreach \a/\b in {280/213,281/383,809/227,1102/519,1672/350,1742/213,1937/255,1935/537,2181/708,1284/612,1477/610,858/957,702/962,662/1086,975/1101}{\ic{\a}{\b}{\Ga}}
\foreach \a/\b in {440/226,596/227,694/227,808/184,902/184,1414/253,1705/189,1790/377,2088/647,2233/656,2208/761,931/734,889/797,766/918,700/850,896/926}{\ic{\a}{\b}{\Gl}}
\foreach \a/\b in {394/322,1005/227,1749/185,2222/690,882/858}{\ic{\a}{\b}{\Gp}}
\ic{1444}{647}{\Gk}
\foreach \a/\b in {295/242,1131/505,1700/338,1870/542}{\info{\a}{\b}}
% ---------- green arrows
\draw[ga] (532,204)--(510,204);
\draw[ga] (1040,219) .. controls (1037,212) and (1036,207) .. (1030,207) -- (1002,207);
\draw[ga] (1007,279) .. controls (1013,273) and (1018,270) .. (1025,270) -- (1043,270);
\draw[ga] (1744,265)--(1750,244);
\draw[ga] (1315,419)--(1328,419) .. controls (1334,419) and (1336,416) .. (1336,411) -- (1336,382);
\draw[ga] (1668,419)--(1656,419) .. controls (1650,419) and (1648,416) .. (1648,411) -- (1648,382);
\draw[ga] (1872,457)--(1855,442);
\draw[ga] (2049,604)--(2064,622);
\draw[ga] (2138,703)--(2162,703);
\draw[ga] (959,724)--(948,745);
\draw[ga] (943,991)--(932,1001) .. controls (928,1004) and (925,1002) .. (922,998) -- (911,985);
\draw[ga] (987,1120)--(1004,1105);
\draw[ga] (1051,1114)--(1064,1133);
\draw[ga] (1166,1258)--(1166,1281);
\draw[ga] (572,967)--(563,947);
\draw[ga] (385,637)--(396,656);
% ---------- green labels
\fill[grn] (1295,426)--(1290,462)--(1316,462)--cycle;
\fill[grn] (1684,426)--(1666,462)--(1688,462)--cycle;
\fill[grn] (1176,540)--(1296,683)--(1314,683)--cycle;
\fill[grn] (1828,572)--(1718,683)--(1737,683)--cycle;
\node[fill=grn,text=white,rounded corners=1pt,inner sep=0pt,minimum width=96*.2845pt,minimum height=64*.2845pt,align=center,font=\jp\fpx{15.5},anchor=center] (sec1) at (1315,494) {乗り継ぎ用\\[.5pt]セキュリティ\\[.5pt]チェック};
\node[fill=grn,text=white,rounded corners=1pt,inner sep=0pt,minimum width=96*.2845pt,minimum height=64*.2845pt,align=center,font=\jp\fpx{15.5},anchor=center] (sec2) at (1656,495) {乗り継ぎ用\\[.5pt]セキュリティ\\[.5pt]チェック};
\node[fill=grn,text=white,rounded corners=1pt,inner sep=0pt,minimum width=142*.2845pt,minimum height=70*.2845pt,align=center,font=\jp\fpx{25},anchor=center] (imm1) at (1312,718) {南ウイング\\出国審査場};
\node[fill=grn,text=white,rounded corners=1pt,inner sep=0pt,minimum width=144*.2845pt,minimum height=70*.2845pt,align=center,font=\jp\fpx{25},anchor=center] (imm2) at (1727,719) {北ウイング\\出国審査場};
% ---------- callouts
\cb{406}{180}{430}{215}{\Cseat}
\cb{596}{188}{597}{217}{\Cseat}
\cb{678}{188}{691}{217}{\Cseat}
\cb{809}{146}{809}{175}{\Cseat}
\cb{929}{170}{913}{178}{\Cseat}
\cb{1036}{241}{994}{250}{\Cheart}
\cb{1458}{230}{1425}{244}{\Cseat}
\cb{1662}{178}{1696}{181}{\Cseat}
\cb{1767}{337}{1779}{370}{\Cseat}
\cb{1222}{357}{1242}{390}{\Cex}
\cb{1780}{456}{1747}{425}{\Cheart}
\cb{2134}{645}{2102}{645}{\Cseat}
\cb{2271}{654}{2241}{652}{\Cseat}
\cb{2256}{733}{2223}{733}{\Cheart}
\cb{2198}{800}{2205}{767}{\Cseat}
\cb{931}{687}{930}{722}{\Cseat}
\cb{873}{750}{881}{787}{\Cseat}
\cb{954}{769}{920}{770}{\Cheart}
\cb{703}{810}{700}{845}{\Cseat}
\cb{745}{877}{757}{913}{\Cseat}
\cb{888}{959}{894}{930}{\Cseat}
% ---------- gate labels
\gtl{195}{139}{43}\gtl{171}{199}{44}\gtl{285}{151}{42}\gtl{174}{280}{45}\gtl{189}{379}{46}
\gtl{479}{152}{41}\gtl{567}{152}{37}\gtl{699}{152}{35}\gtl{877}{152}{33}\gtl{1024}{152}{31}
\gtl{468}{264}{38}\gtl{580}{265}{36}\gtl{703}{266}{34}\gtl{919}{279}{32}\gtl{368}{412}{47}
\gtl{1149}{142}{27}\gtl{1513}{161}{26}\gtl{1713}{93}{25}\gtl{1802}{98}{24}\gtl{1894}{151}{23}\gtl{1840}{256}{22}\gtl{1818}{356}{21}
\gtl{2156}{607}{18}\gtl{2248}{601}{17}\gtl{2356}{647}{16}\gtl{2380}{753}{15}\gtl{2343}{808}{14}\gtl{2243}{808}{12}
\gtl{2010}{773}{11A}\gtl{2010}{795}{11B}
\gtl{637}{749}{53}\gtl{591}{798}{54}\gtl{669}{917}{55}\gtl{766}{1064}{56}\gtl{753}{725}{52}\gtl{830}{719}{51}
\gtl{833}{1174}{57A}\gtl{927}{1194}{57B}\gtl{957}{1304}{58A}\gtl{1000}{1364}{58B}
% ---------- satellite labels
\node[satl,minimum width=157*.2845pt,minimum height=35*.2845pt] (s3) at (785,104) {第3サテライト};
\node[satl,minimum width=158*.2845pt,minimum height=35*.2845pt] (s4) at (472,376) {第4サテライト};
\node[satl,minimum width=159*.2845pt,minimum height=35*.2845pt] (s2) at (1988,110) {第2サテライト};
\node[satl,minimum width=160*.2845pt,minimum height=34*.2845pt] (s1) at (2277,842) {第1サテライト};
\node[satl,minimum width=158*.2845pt,minimum height=34*.2845pt] (s5) at (807,1234) {第5サテライト};
% ---------- floor labels
\foreach \n/\a/\b/\c/\d/\t in {f1/177/297/224/326/2F,f2/200/498/249/527/1F,f3/1979/193/2027/222/2F,f4/1601/608/1649/637/2F,f5/698/1038/747/1067/2F,f6/572/1162/619/1190/1F,f7/1077/1105/1124/1133/4F}{
 \fill[fbl] (\a,\b) rectangle (\c,\d);
 \node[text=white,inner sep=0pt,font=\bfseries\fpx{33},xscale=.8] (\n) at ({(\a+\c)/2},{(\b+\d)/2}) {\t};}
% ---------- big titles
\node[blk,font=\jp\fpx{36}] (nw) at (2158,190) {北ウイング};
\node[blk,font=\jp\fpx{36}] (sw) at (647,673) {南ウイング};
\node[blk,font=\jp\fpx{43}] (cb) at (1465,473) {中央ビル};
% ---------- small texts
\node[bfl] (l1) at (333,289) {2F{\jp ・}4F};
\node[bfl] (l2) at (1076,216) {3F{\jp ・}4F};
\node[bfl] (l3) at (2397,700) {4F};
\node[bfl] (l4) at (1932,187) {4F};
\node[bfl] (l5) at (841,762) {4F};
\node[bfs] (t1) at (1312,344) {2Fへ};
\node[bfs] (t2) at (1575,346) {2Fへ};
\node[gfs] (t3) at (1247,538) {4Fから};
\node[gfs] (t4) at (1153,578) {4Fから};
\node[gfs] (t5) at (1729,558) {4Fから};
\node[gfs] (t6) at (1822,647) {4Fから};
\node[gtx] (b1) at (1468,548) {ターミナル連絡バス};
\node[gtx] (b2) at (1426,567) {乗降場};
\node[bbx,minimum width=20*.2845pt,minimum height=20*.2845pt] (b3) at (1462,567) {28};
\node[gtx] (b4) at (1445,683) {出発バスゲート};
\node[bbx,minimum width=55*.2845pt,minimum height=21*.2845pt] (b5) at (1426,705) {28A-G};
\node[gtx,anchor=west] (c1) at (580,854) {出発};
\node[gtx,anchor=west] (c2) at (580,873) {バスゲート};
\node[bbx,minimum width=55*.2845pt,minimum height=20*.2845pt] (c3) at (605,895) {59A-C};
\node[gtx] (c4) at (748,1096) {ターミナル連絡バス};
\node[gtx] (c5) at (706,1114) {乗降場};
\node[bbx,minimum width=20*.2845pt,minimum height=20*.2845pt,fill=gr] (c6) at (742,1114) {59};
\node[inner sep=0pt,text=black,font=\jp\fpx{16},rotate=-60.5] (r1) at (354,569) {第5サテライトへ};
\node[inner sep=0pt,text=black,font=\jp\fpx{16},rotate=-60.5] (r2) at (603,1023) {第4サテライトへ};
\end{tikzpicture}
\end{document}
